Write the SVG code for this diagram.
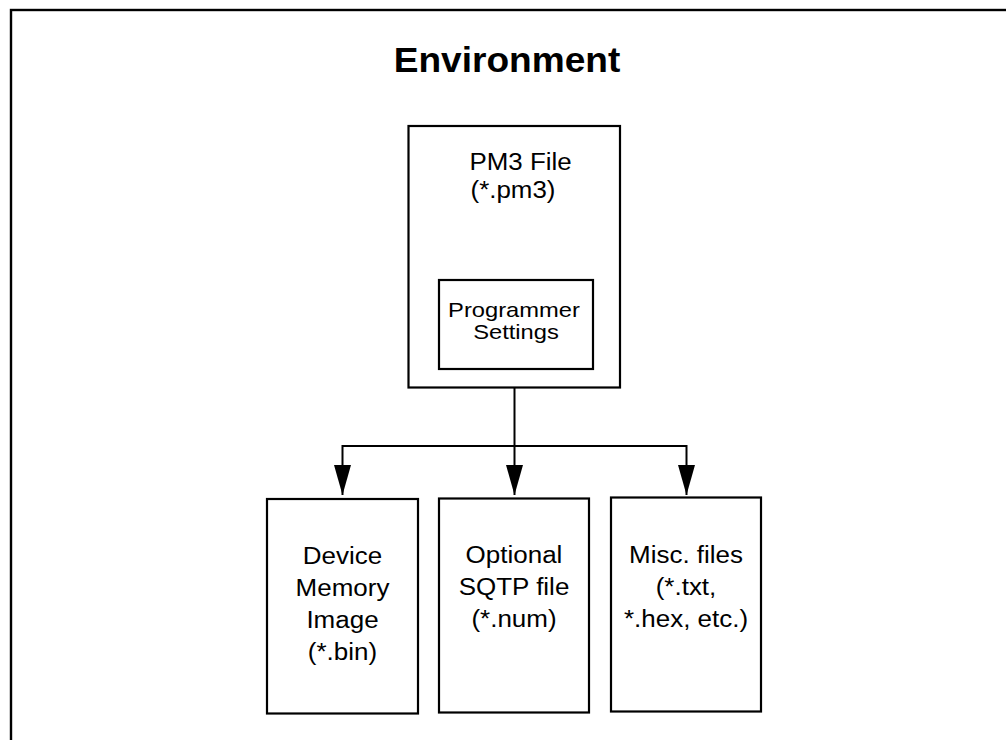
<svg xmlns="http://www.w3.org/2000/svg" width="1006" height="740" viewBox="0 0 1006 740">
<style>
.box{fill:#fff;stroke:#000;stroke-width:2.2}
.frame{fill:#fff;stroke:#000;stroke-width:2.4}
.t{font-family:"Liberation Sans",Arial,sans-serif;fill:#000}
.title{font-size:35px;font-weight:bold}
.m{font-size:24px}
.s{font-size:21px}
.b{font-size:23px}
.conn{fill:none;stroke:#000;stroke-width:2}
</style>
<defs>
<marker id="arr" markerUnits="userSpaceOnUse" markerWidth="30" markerHeight="17" refX="30" refY="8.5" orient="auto">
<path d="M0,0 L30,8.5 L0,17 z" fill="#000"/>
</marker>
</defs>
<rect class="frame" x="11" y="10" width="1010" height="750"/>
<g id="title">
<text class="t title" text-anchor="middle" transform="translate(507,72) scale(1.06,1)">Environment</text>
</g>
<g id="pm3">
<rect class="box" x="408.5" y="126" width="211.5" height="261.5"/>
<text class="t m" transform="translate(469.5,170) scale(1.08,1)">PM3 File</text>
<text class="t m" transform="translate(470.5,198) scale(1.08,1)">(*.pm3)</text>
</g>
<g id="settings">
<rect class="box" x="439" y="280" width="154" height="89"/>
<text class="t s" text-anchor="middle" transform="translate(514,317) scale(1.13,1)">Programmer</text>
<text class="t s" text-anchor="middle" transform="translate(516,339) scale(1.13,1)">Settings</text>
</g>
<g id="connectors">
<path class="conn" d="M514.5,387.5 V446"/>
<path class="conn" d="M342.5,446 H686.5"/>
<path class="conn" d="M342.5,445 V495" marker-end="url(#arr)"/>
<path class="conn" d="M514.5,445 V495" marker-end="url(#arr)"/>
<path class="conn" d="M686.5,445 V495" marker-end="url(#arr)"/>
</g>
<g id="bin">
<rect class="box" x="267" y="499" width="151" height="214.5"/>
<text class="t b" text-anchor="middle" transform="translate(342.5,564) scale(1.13,1)">Device</text>
<text class="t b" text-anchor="middle" transform="translate(342.5,596) scale(1.13,1)">Memory</text>
<text class="t b" text-anchor="middle" transform="translate(342.5,628) scale(1.13,1)">Image</text>
<text class="t b" text-anchor="middle" transform="translate(342.5,660) scale(1.13,1)">(*.bin)</text>
</g>
<g id="sqtp">
<rect class="box" x="439" y="498.5" width="150" height="214"/>
<text class="t b" text-anchor="middle" transform="translate(514,563) scale(1.13,1)">Optional</text>
<text class="t b" text-anchor="middle" transform="translate(514,595) scale(1.13,1)">SQTP file</text>
<text class="t b" text-anchor="middle" transform="translate(514,627) scale(1.13,1)">(*.num)</text>
</g>
<g id="misc">
<rect class="box" x="611" y="497.5" width="150" height="214"/>
<text class="t b" text-anchor="middle" transform="translate(686,563) scale(1.13,1)">Misc. files</text>
<text class="t b" text-anchor="middle" transform="translate(686,595) scale(1.13,1)">(*.txt,</text>
<text class="t b" text-anchor="middle" transform="translate(686,627) scale(1.13,1)">*.hex, etc.)</text>
</g>
</svg>
